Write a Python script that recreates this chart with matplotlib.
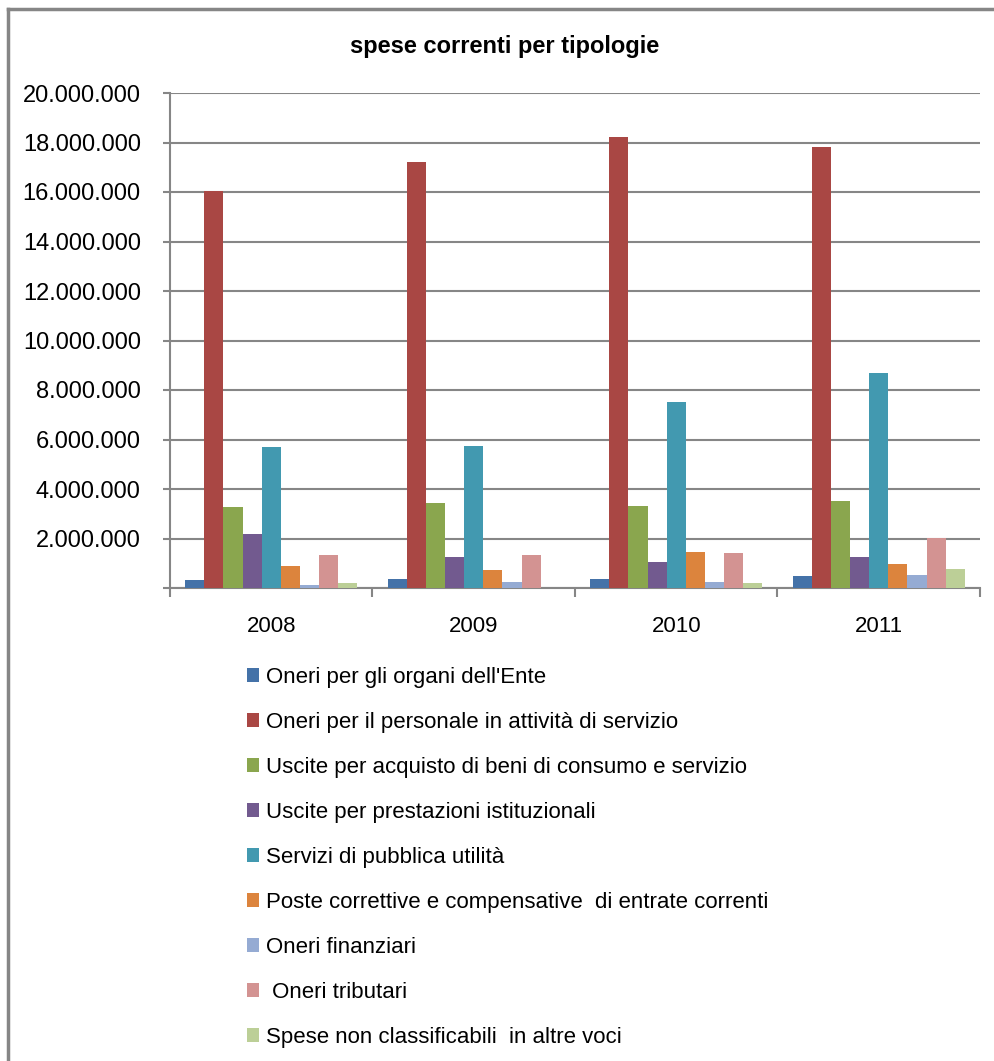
import matplotlib.pyplot as plt
from matplotlib.lines import Line2D
from matplotlib.patches import Patch
from matplotlib.ticker import FuncFormatter
import numpy as np

plt.rcParams['font.family'] = ['Liberation Sans', 'DejaVu Sans']

years = ["2008", "2009", "2010", "2011"]
categories = [
    "Oneri per gli organi dell'Ente",
    "Oneri per il personale in attività di servizio",
    "Uscite per acquisto di beni di consumo e servizio",
    "Uscite per prestazioni istituzionali",
    "Servizi di pubblica utilità",
    "Poste correttive e compensative  di entrate correnti",
    "Oneri finanziari",
    " Oneri tributari",
    "Spese non classificabili  in altre voci",
]
organi = [320000, 360000, 360000, 480000]
personale = [16050000, 17200000, 18220000, 17820000]
beni = [3280000, 3440000, 3320000, 3520000]
prestazioni = [2200000, 1240000, 1040000, 1240000]
servizi = [5700000, 5740000, 7520000, 8690000]
poste = [880000, 720000, 1440000, 960000]
finanziari = [120000, 240000, 240000, 520000]
tributari = [1320000, 1320000, 1400000, 2040000]
non_classificabili = [200000, 0, 200000, 760000]
series = [organi, personale, beni, prestazioni, servizi, poste,
          finanziari, tributari, non_classificabili]
colors = ["#4472a8", "#a94744", "#8aa64e", "#725a8f", "#4299b0",
          "#dc843d", "#95abd3", "#d39392", "#bccf97"]

fig = plt.figure(figsize=(9.95, 10.61), dpi=100)
ax = fig.add_axes([170 / 995, 1 - 588 / 1061, 810 / 995, 495 / 1061])

x = np.arange(len(years))
n = len(series)
group = 0.85
w = group / n
for i, (vals, c) in enumerate(zip(series, colors)):
    ax.bar(x - group / 2 + w * (i + 0.5), vals, width=w, color=c, zorder=3)

ax.set_xlim(-0.5, len(years) - 0.5)
ax.set_ylim(0, 20000000)
ax.set_yticks(np.arange(0, 20000001, 2000000))
ax.yaxis.set_major_formatter(FuncFormatter(
    lambda v, p: "" if v == 0 else f"{int(v):,}".replace(",", ".")))
ax.grid(axis="y", color="#868686", linewidth=1.5, zorder=0)
ax.set_axisbelow(True)

ax.set_xticks(x)
ax.set_xticklabels(years)
ax.set_xticks(np.arange(-0.5, len(years)), minor=True)
ax.tick_params(axis="x", which="major", length=0, pad=20, labelsize=16)
ax.tick_params(axis="x", which="minor", length=6.5, width=1.5, color="#868686")
ax.tick_params(axis="y", length=5, width=1.5, color="#868686", pad=16,
               labelsize=17)
for s in ["top", "right"]:
    ax.spines[s].set_visible(False)
ax.spines["left"].set_color("#868686")
ax.spines["left"].set_linewidth(1.5)
ax.spines["bottom"].set_color("#868686")
ax.spines["bottom"].set_linewidth(1.5)

fig.text(505 / 995, 1 - 47 / 1061, "spese correnti per tipologie",
         ha="center", va="center", fontsize=17, fontweight="bold")

handles = [Patch(facecolor=c, edgecolor="none") for c in colors]
fig.legend(handles, categories, loc="upper left",
           bbox_to_anchor=(238 / 995, 1 - 658 / 1061), frameon=False,
           fontsize=16, labelspacing=1.08, handlelength=0.55,
           handleheight=0.55, handletextpad=0.3, borderaxespad=0)

# outer frame
fig.add_artist(Line2D([8 / 995, 8 / 995], [0, 1 - 9 / 1061],
                      transform=fig.transFigure, color="#868686", lw=2.5))
fig.add_artist(Line2D([8 / 995, 1], [1 - 9 / 1061, 1 - 9 / 1061],
                      transform=fig.transFigure, color="#868686", lw=2.5))

fig.savefig("out.png", dpi=100)
